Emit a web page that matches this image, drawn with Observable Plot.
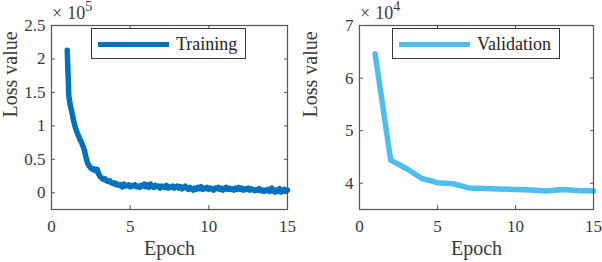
<!DOCTYPE html>
<html>
<head>
<meta charset="utf-8">
<script src="https://cdn.jsdelivr.net/npm/d3@7"></script>
<script src="https://cdn.jsdelivr.net/npm/@observablehq/plot@0.6"></script>
<style>
  html, body { margin: 0; padding: 0; background: #fff; }
  #wrap { position: relative; width: 602px; height: 262px; font-family: "Liberation Serif", "Times New Roman", serif; color: #3a3a3a; }
  .panel { position: absolute; top: 0; }
  .mult { position: absolute; font-size: 18px; line-height: 1; white-space: nowrap; }
  .mult .x { margin-right: 5px; }
  .mult sup { font-size: 14px; position: relative; top: -1px; vertical-align: super; line-height: 0; }
  .legend { position: absolute; border: 1px solid #3a3a3a; background: #fff; box-sizing: border-box; font-size: 18px; }
  .legend .sw { position: absolute; left: 6px; top: 13px; width: 71px; height: 5px; }
  .legend .lb { position: absolute; top: 4px; line-height: 22px; color: #262626; }
</style>
</head>
<body>
<div id="wrap">
  <div class="panel" id="left" style="left:0"></div>
  <div class="panel" id="right" style="left:300px"></div>
  <div class="mult" style="left:52px; top:4px"><span class="x">×</span>10<sup>5</sup></div>
  <div class="mult" style="left:360px; top:4px"><span class="x">×</span>10<sup>4</sup></div>
  <div class="legend" style="left:91px; top:28px; width:155px; height:31px">
    <div class="sw" style="background:#0072BD"></div><div class="lb" style="left:84px">Training</div>
  </div>
  <div class="legend" style="left:392px; top:28px; width:168px; height:31px">
    <div class="sw" style="background:#4DBEEE"></div><div class="lb" style="left:84px">Validation</div>
  </div>
</div>
<script>
// Training loss (units of 1e5), sampled every 0.1 epoch from epoch 1 to 15
const trainLoss = [
 2.13,1.45,1.30,1.20,1.08,0.99,0.92,0.86,0.80,0.76,
 0.70,0.63,0.52,0.44,0.40,0.37,0.35,0.36,0.33,0.35,
 0.28,0.24,0.22,0.20,0.21,0.18,0.17,0.18,0.15,0.14,
 0.15,0.12,0.13,0.11,0.12,0.09,0.13,0.10,0.11,0.12,
 0.09,0.11,0.10,0.12,0.09,0.10,0.08,0.11,0.10,0.13,
 0.09,0.12,0.08,0.13,0.10,0.08,0.11,0.09,0.10,0.07,
 0.10,0.09,0.08,0.11,0.07,0.09,0.08,0.10,0.07,0.09,
 0.10,0.07,0.09,0.06,0.08,0.10,0.07,0.05,0.08,0.06,
 0.04,0.07,0.05,0.08,0.06,0.09,0.05,0.07,0.06,0.08,
 0.05,0.07,0.06,0.04,0.07,0.06,0.08,0.05,0.07,0.04,
 0.06,0.08,0.05,0.07,0.05,0.06,0.04,0.07,0.05,0.08,
 0.05,0.07,0.04,0.06,0.05,0.07,0.04,0.06,0.05,0.03,
 0.05,0.04,0.06,0.03,0.04,0.02,0.04,0.03,0.05,0.02,
 0.07,0.03,0.01,0.04,0.02,0.06,0.01,0.03,0.05,0.02,
 0.04
];
const trainStep = 0.1;
const trainStart = 1;

// Validation loss (units of 1e4), one value per epoch
const valEpochs = [1,2,3,4,5,6,7,8,9,10,11,12,13,14,15];
const valLoss = [6.46,4.44,4.28,4.09,4.01,3.99,3.91,3.90,3.89,3.88,3.87,3.85,3.88,3.86,3.85];

const xTicks = [0,5,10,15];
const trainYTicks = [0,0.5,1,1.5,2,2.5];
const valYTicks = [4,5,6,7];

const trainData = trainLoss.map((v,i) => ({epoch: trainStart + i*trainStep, loss: v}));
const valData = valEpochs.map((e,i) => ({epoch: e, loss: valLoss[i]}));

const ink = "#3a3a3a";
const frameInk = "#555";
const FF = "Liberation Serif";

function panel({data, color, width, marginLeft, marginRight, yDomain, yTicks}) {
  return Plot.plot({
    width, height: 262,
    marginLeft, marginRight, marginTop: 25, marginBottom: 53,
    style: `font-family: 'Liberation Serif', serif; font-size: 17px; color: ${ink}; background: transparent; overflow: visible;`,
    x: {domain: [0, 15]},
    y: {domain: yDomain},
    marks: [
      Plot.line(data, {x: "epoch", y: "loss", stroke: color, strokeWidth: 5.5, strokeLinejoin: "round"}),
      Plot.frame({stroke: frameInk, strokeWidth: 1.2}),
      Plot.axisX(xTicks, {anchor: "bottom", tickSize: -4, tickPadding: 14, stroke: frameInk, fill: ink, label: null, tickFormat: d => d, fontFamily: FF, fontSize: 17}),
      Plot.axisX(xTicks, {anchor: "top", tickSize: -4, stroke: frameInk, label: null, tickFormat: () => ""}),
      Plot.axisY(yTicks, {anchor: "left", tickSize: -4, tickPadding: 10, stroke: frameInk, fill: ink, label: null, tickFormat: d => d, fontFamily: FF, fontSize: 17}),
      Plot.axisY(yTicks, {anchor: "right", tickSize: -4, stroke: frameInk, label: null, tickFormat: () => ""}),
      Plot.text(["Epoch"], {frameAnchor: "bottom", dy: 45, text: d => d, fontSize: 20, fill: ink, fontFamily: FF}),
      Plot.text(["Loss value"], {frameAnchor: "left", dx: -(marginLeft - 10), rotate: -90, text: d => d, fontSize: 20, fill: ink, fontFamily: FF})
    ]
  });
}

document.getElementById("left").append(panel({
  data: trainData, color: "#0072BD", width: 300, marginLeft: 51, marginRight: 13,
  yDomain: [-0.25, 2.5], yTicks: trainYTicks
}));
document.getElementById("right").append(panel({
  data: valData, color: "#4DBEEE", width: 302, marginLeft: 59, marginRight: 9,
  yDomain: [3.5, 7], yTicks: valYTicks
}));
</script>
</body>
</html>
